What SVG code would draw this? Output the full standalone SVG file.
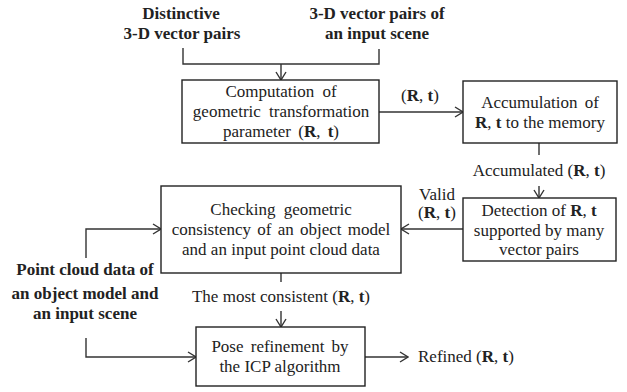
<svg xmlns="http://www.w3.org/2000/svg" width="627" height="392" viewBox="0 0 627 392">
<style>
text{font-family:"Liberation Serif","Times New Roman",serif;font-size:17px;fill:#222;text-anchor:middle}
.b{font-weight:bold}
.box{fill:#fff;stroke:#222;stroke-width:1.4}
.c{fill:none;stroke:#333;stroke-width:1.4}
</style>
<defs>
<marker id="ah" markerWidth="10" markerHeight="12" refX="9" refY="6" orient="auto" markerUnits="userSpaceOnUse">
<path d="M1,1 L9,6 L1,11" fill="none" stroke="#333" stroke-width="1.4"/>
</marker>
</defs>
<g id="connectors">
<path class="c" d="M183,48 V64 H379 V49"/>
<path class="c" d="M281,64 V80" marker-end="url(#ah)"/>
<path class="c" d="M379,112 H463" marker-end="url(#ah)"/>
<path class="c" d="M539,143 V155"/>
<path class="c" d="M539,186 V198" marker-end="url(#ah)"/>
<path class="c" d="M463,229 H401" marker-end="url(#ah)"/>
<path class="c" d="M86,258 V229 H161" marker-end="url(#ah)"/>
<path class="c" d="M281,273 V282"/>
<path class="c" d="M281,311 V327" marker-end="url(#ah)"/>
<path class="c" d="M86,338 V357 H196" marker-end="url(#ah)"/>
<path class="c" d="M365,357 H408" marker-end="url(#ah)"/>
</g>
<g id="in1"><text class="b" x="181" y="19">Distinctive</text><text class="b" x="182" y="39">3-D vector pairs</text></g>
<g id="in2"><text class="b" x="377" y="19">3-D vector pairs of</text><text class="b" x="377" y="39">an input scene</text></g>
<g id="in3"><text class="b" x="85" y="275">Point cloud data of</text><text class="b" x="85" y="299">an object model and</text><text class="b" x="85" y="319">an input scene</text></g>
<g id="n1"><rect class="box" x="182" y="80" width="197" height="63"/>
<text x="281" y="97" word-spacing="4">Computation of</text>
<text x="281" y="117" word-spacing="4">geometric transformation</text>
<text x="281" y="137" word-spacing="3">parameter (<tspan class="b">R</tspan>, <tspan class="b">t</tspan>)</text></g>
<g id="n2"><rect class="box" x="463" y="81" width="154" height="62"/>
<text x="540" y="108" word-spacing="3">Accumulation of</text>
<text x="540" y="128"><tspan class="b">R</tspan>, <tspan class="b">t</tspan> to the memory</text></g>
<g id="n3"><rect class="box" x="463" y="198" width="153" height="63"/>
<text x="539" y="216">Detection of <tspan class="b">R</tspan>, <tspan class="b">t</tspan></text>
<text x="539" y="236">supported by many</text>
<text x="539" y="255">vector pairs</text></g>
<g id="n4"><rect class="box" x="161" y="186" width="240" height="87"/>
<text x="281" y="215" word-spacing="4">Checking geometric</text>
<text x="281" y="235" word-spacing="2">consistency of an object model</text>
<text x="281" y="255">and an input point cloud data</text></g>
<g id="n5"><rect class="box" x="196" y="327" width="169" height="59"/>
<text x="280" y="352" word-spacing="3">Pose refinement by</text>
<text x="280" y="372">the ICP algorithm</text></g>
<g id="labels">
<text x="420" y="101">(<tspan class="b">R</tspan>, <tspan class="b">t</tspan>)</text>
<text x="539" y="176">Accumulated (<tspan class="b">R</tspan>, <tspan class="b">t</tspan>)</text>
<text x="437" y="200">Valid</text>
<text x="437" y="218">(<tspan class="b">R</tspan>, <tspan class="b">t</tspan>)</text>
<text x="281" y="302">The most consistent (<tspan class="b">R</tspan>, <tspan class="b">t</tspan>)</text>
<text x="418" y="362" style="text-anchor:start">Refined (<tspan class="b">R</tspan>, <tspan class="b">t</tspan>)</text>
</g>
</svg>
